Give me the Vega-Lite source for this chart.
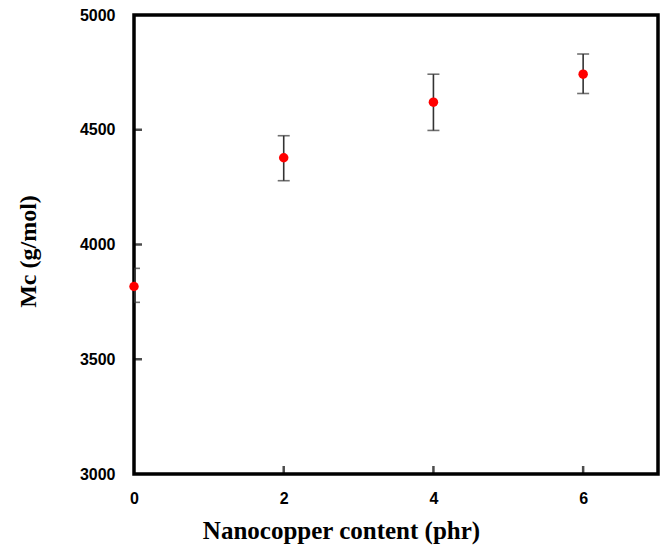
{
  "$schema": "https://vega.github.io/schema/vega-lite/v6.json",
  "width": 524,
  "height": 459,
  "autosize": "none",
  "padding": {"left": 134, "top": 15, "right": 5, "bottom": 73},
  "background": "white",
  "config": {
    "view": {"stroke": "black", "strokeWidth": 3.5},
    "axis": {"grid": false, "domain": false, "ticks": false, "labelFlush": false, "format": "d", "labelFont": "Liberation Sans", "labelFontWeight": "bold", "labelFontSize": 16, "labelColor": "black", "titleFont": "Liberation Serif", "titleFontWeight": "bold", "titleFontSize": 25, "titleColor": "black"}
  },
  "datasets": {
    "points": [
      {"x": 0, "y": 3817, "lo": 3748, "hi": 3896},
      {"x": 2, "y": 4378, "lo": 4278, "hi": 4474},
      {"x": 4, "y": 4620, "lo": 4497, "hi": 4742},
      {"x": 6, "y": 4742, "lo": 4658, "hi": 4830}
    ],
    "xticks": [{"t": 2}, {"t": 4}, {"t": 6}],
    "yticks": [{"v": 3500}, {"v": 4000}, {"v": 4500}]
  },
  "data": {"name": "points"},
  "layer": [
    {
      "mark": {"type": "rule", "color": "#333333", "strokeWidth": 1.6, "clip": true},
      "encoding": {
        "x": {"field": "x", "type": "quantitative", "scale": {"domain": [0, 7]},
          "axis": {"values": [0, 2, 4, 6], "labelPadding": 16, "title": "Nanocopper content (phr)", "titleX": 207, "titleY": 56, "titleBaseline": "middle", "titleAlign": "center"}},
        "y": {"field": "lo", "type": "quantitative", "scale": {"domain": [3000, 5000]},
          "axis": {"values": [3000, 3500, 4000, 4500, 5000], "labelPadding": 19, "title": "Mc (g/mol)", "titleX": -106, "titleY": 236, "titleAngle": -90, "titleBaseline": "middle", "titleAlign": "center", "titleFontSize": 24}},
        "y2": {"field": "hi"}
      }
    },
    {
      "mark": {"type": "tick", "orient": "horizontal", "color": "#333333", "size": 12, "thickness": 1.6, "clip": true},
      "encoding": {
        "x": {"field": "x", "type": "quantitative"},
        "y": {"field": "lo", "type": "quantitative"}
      }
    },
    {
      "mark": {"type": "tick", "orient": "horizontal", "color": "#333333", "size": 12, "thickness": 1.6, "clip": true},
      "encoding": {
        "x": {"field": "x", "type": "quantitative"},
        "y": {"field": "hi", "type": "quantitative"}
      }
    },
    {
      "data": {"name": "xticks"},
      "mark": {"type": "tick", "orient": "vertical", "color": "black", "size": 16, "thickness": 2.5, "clip": true},
      "encoding": {
        "x": {"field": "t", "type": "quantitative"},
        "y": {"datum": 3000, "type": "quantitative"}
      }
    },
    {
      "data": {"name": "yticks"},
      "mark": {"type": "tick", "orient": "horizontal", "color": "black", "size": 16, "thickness": 2.5, "clip": true},
      "encoding": {
        "x": {"datum": 0, "type": "quantitative"},
        "y": {"field": "v", "type": "quantitative"}
      }
    },
    {
      "mark": {"type": "circle", "color": "#ff0000", "opacity": 1, "size": 90},
      "encoding": {
        "x": {"field": "x", "type": "quantitative"},
        "y": {"field": "y", "type": "quantitative"}
      }
    }
  ]
}
